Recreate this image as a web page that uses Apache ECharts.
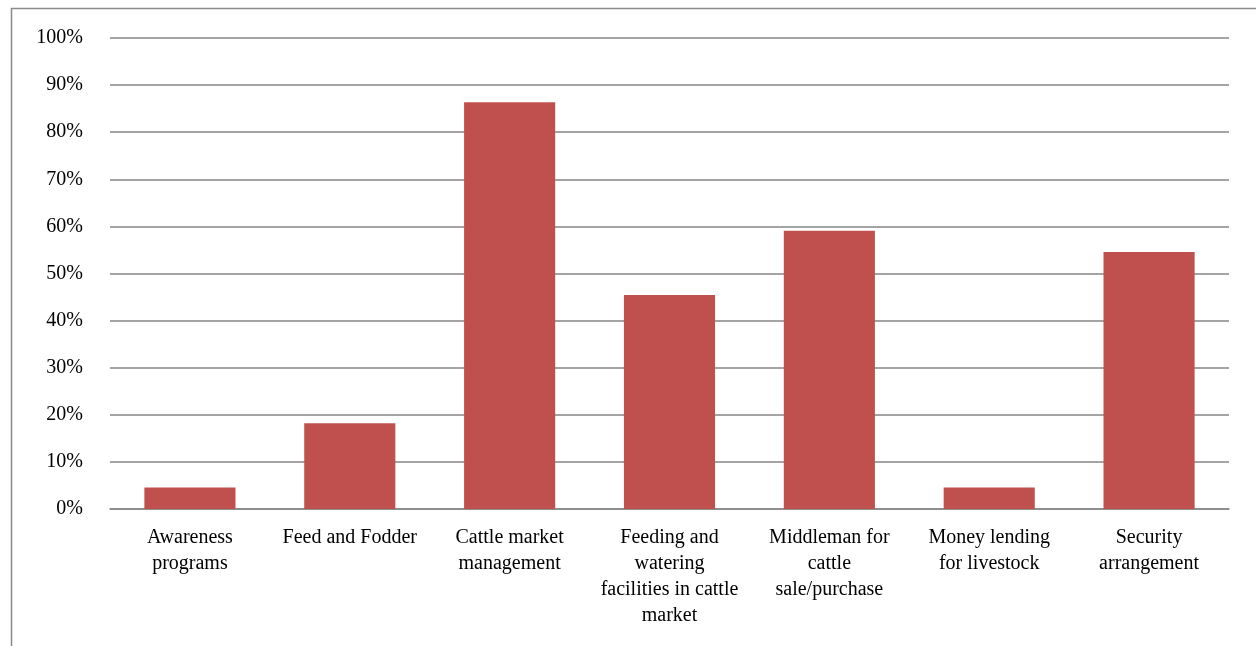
<!DOCTYPE html>
<html>
<head>
<meta charset="utf-8">
<script src="https://cdn.jsdelivr.net/npm/echarts@6/dist/echarts.min.js"></script>
<style>
  html, body { margin: 0; padding: 0; background: #fff; }
  #chart { width: 1256px; height: 646px; }
</style>
</head>
<body>
<div id="chart"></div>
<script>
// Categories (line breaks as they wrap under each bar)
const categories = [
  'Awareness\nprograms',
  'Feed and Fodder',
  'Cattle market\nmanagement',
  'Feeding and\nwatering\nfacilities in cattle\nmarket',
  'Middleman for\ncattle\nsale/purchase',
  'Money lending\nfor livestock',
  'Security\narrangement'
];
// Share of respondents (%)
const values = [4.55, 18.18, 86.36, 45.45, 59.09, 4.55, 54.55];
const yTicks = { min: 0, max: 100, step: 10 };

const chart = echarts.init(document.getElementById('chart'));
const font = '"Liberation Serif", "DejaVu Serif", serif';

chart.setOption({
  animation: false,
  backgroundColor: '#fff',
  graphic: [{
    type: 'rect',
    shape: { x: 11.5, y: 8.5, width: 1300, height: 700 },
    style: { fill: 'none', stroke: '#8a8a8a', lineWidth: 1.5 },
    silent: true
  }],
  grid: { left: 110, right: 27, top: 38, bottom: 137, containLabel: false },
  xAxis: {
    type: 'category',
    data: categories,
    axisTick: { show: false },
    axisLine: { lineStyle: { color: '#868686', width: 1.5 } },
    axisLabel: {
      interval: 0,
      color: '#000',
      fontFamily: font,
      fontSize: 20,
      lineHeight: 26,
      margin: 16,
      align: 'center'
    }
  },
  yAxis: {
    type: 'value',
    min: yTicks.min,
    max: yTicks.max,
    interval: yTicks.step,
    axisLine: { show: false },
    axisTick: { show: false },
    splitLine: { lineStyle: { color: '#868686', width: 1.5 } },
    axisLabel: {
      color: '#000',
      fontFamily: font,
      fontSize: 20,
      margin: 27,
      formatter: v => v + '%'
    }
  },
  series: [{
    type: 'bar',
    data: values,
    barWidth: '57%',
    itemStyle: { color: '#C0504D' }
  }]
});
</script>
</body>
</html>
